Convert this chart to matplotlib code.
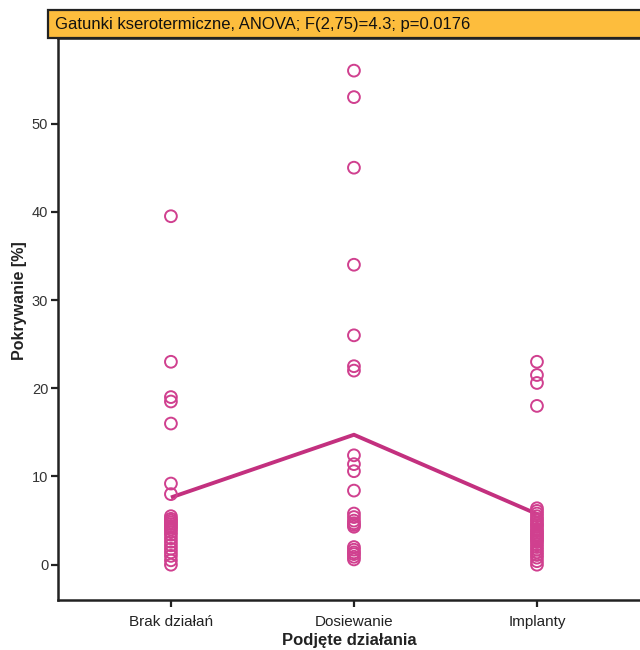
import matplotlib
matplotlib.use("Agg")
import matplotlib.pyplot as plt
from matplotlib.patches import Rectangle
import numpy as np

plt.rcParams['font.family'] = ['Liberation Sans', 'DejaVu Sans']

# Group labels and observed coverage values [%]
groups = ["Brak działań", "Dosiewanie", "Implanty"]

brak = [39.5, 23.0, 19.0, 18.5, 16.0, 9.2, 8.0,
        5.5, 5.2, 5.0, 4.8, 4.6, 4.4, 4.2, 4.0, 3.7, 3.4, 3.0, 2.6,
        2.2, 1.8, 1.4, 1.0, 0.5, 0.0]

dosiewanie = [56.0, 53.0, 45.0, 34.0, 26.0, 22.5, 22.0, 12.4, 11.4, 10.6, 8.4,
              5.8, 5.4, 5.0, 4.7, 4.5, 4.3,
              2.0, 1.7, 1.4, 1.2, 0.9, 0.6]

implanty = [23.0, 21.5, 20.6, 18.0,
            6.4, 6.1, 5.8, 5.5, 5.2, 5.0, 4.7, 4.5, 4.3, 4.0, 3.8, 3.6, 3.4,
            3.2, 3.0, 2.8, 2.6, 2.3, 2.0, 1.7, 1.4, 1.1, 0.8, 0.4, 0.0]

title = "Gatunki kserotermiczne, ANOVA; F(2,75)=4.3; p=0.0176"
xlabel = "Podjęte działania"
ylabel = "Pokrywanie [%]"
yticks = [0, 10, 20, 30, 40, 50]

data = [brak, dosiewanie, implanty]
color = "#D0408F"
line_color = "#C3307F"

fig = plt.figure(figsize=(6.4, 6.5), dpi=100)
ax = fig.add_axes([58 / 640, 50 / 650, 1 - 58 / 640, (600 - 38) / 650])

x = np.arange(len(groups))
for i, vals in enumerate(data):
    ax.scatter(np.full(len(vals), i), vals, s=72, facecolors="none",
               edgecolors=color, linewidths=1.4, zorder=3)

means = [np.mean(v) for v in data]
ax.plot(x, means, color=line_color, lw=2.8, zorder=2, solid_capstyle="butt")

ax.set_xlim(-0.617, 2.563)
ax.set_ylim(-4.0, 59.7)
ax.set_xticks(x)
ax.set_xticklabels(groups, fontsize=11, color="#222222")
ax.set_yticks(yticks)
ax.set_yticklabels([str(t) for t in yticks], fontsize=10.5, color="#333333")
ax.tick_params(axis="both", direction="out", length=5, width=1.6, color="#222222")
ax.tick_params(axis="x", pad=6)
ax.tick_params(axis="y", pad=2)

ax.spines["right"].set_visible(False)
for side in ("left", "bottom", "top"):
    ax.spines[side].set_linewidth(1.8)
    ax.spines[side].set_color("#222222")

ax.set_xlabel(xlabel, fontsize=12, fontweight="bold", color="#222222", labelpad=3)
ax.set_ylabel(ylabel, fontsize=11.5, fontweight="bold", color="#222222")
ax.yaxis.set_label_coords(-0.053, 0.532)

# Title banner
fig.patches.append(Rectangle((48 / 640, 1 - 38 / 650), 1.0, 28 / 650,
                             transform=fig.transFigure, facecolor="#FDBD3D",
                             edgecolor="#222222", linewidth=1.6, zorder=5))
fig.text(55 / 640, 1 - 24 / 650, title, fontsize=12, color="#111111",
         va="center", ha="left", zorder=6)

fig.savefig("out.png", dpi=100)
